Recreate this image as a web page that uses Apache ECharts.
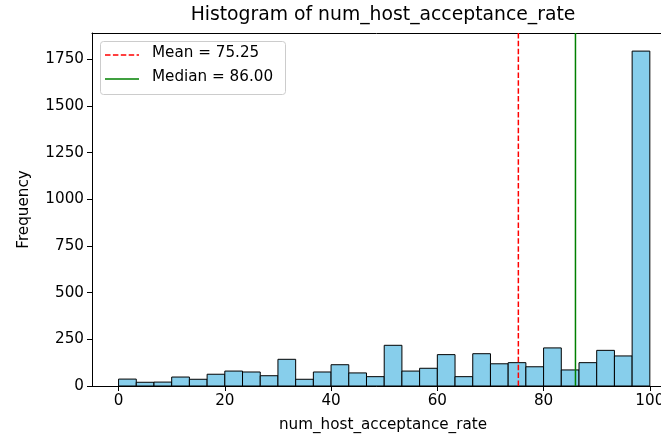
<!DOCTYPE html>
<html><head><meta charset="utf-8">
<script src="https://cdn.jsdelivr.net/npm/echarts@6/dist/echarts.min.js"></script>
<style>html,body{margin:0;padding:0;background:#fff}#c{width:661px;height:437px}</style>
</head><body><div id="c"></div>
<script>
const binMin = 0, binMax = 100, binCount = 30;
const counts = [37, 20, 21, 48, 36, 63, 80, 75, 55, 143,
                36, 75, 114, 70, 50, 218, 80, 95, 168, 50,
                173, 119, 125, 103, 204, 86, 125, 191, 161, 1794];
const meanValue = 75.25;
const medianValue = 86.00;
const meanLabel = 'Mean = 75.25';
const medianLabel = 'Median = 86.00';
const xTicks = [0, 20, 40, 60, 80, 100];
const yTicks = [0, 250, 500, 750, 1000, 1250, 1500, 1750];
const yTop = 1891;

const binW = (binMax - binMin) / binCount;
const histData = counts.map((c, i) => [binMin + i * binW, binMin + (i + 1) * binW, c]);

const font = 'DejaVu Sans';
const fs = 15.2;
const chart = echarts.init(document.getElementById('c'), null, {renderer: 'canvas'});
chart.setOption({
  animation: false,
  textStyle: {fontFamily: font},
  title: [{
    text: 'Histogram of num_host_acceptance_rate',
    left: 383, top: 6, textAlign: 'center', padding: 0,
    textStyle: {fontFamily: font, fontSize: 18.8, fontWeight: 'normal', color: '#000'}
  }, {
    text: 'num_host_acceptance_rate',
    left: 383, top: 418, textAlign: 'center', padding: 0,
    textStyle: {fontFamily: font, fontSize: fs, fontWeight: 'normal', color: '#000'}
  }],
  grid: {left: 92, right: 0, top: 33, bottom: 51, containLabel: false, outerBoundsMode: 'none'},
  xAxis: [{
    type: 'value', min: -5, max: 102.1,
    axisLine: {show: true, onZero: false, lineStyle: {color: '#000', width: 1}},
    axisTick: {show: true, length: 5, customValues: xTicks, lineStyle: {color: '#000'}},
    axisLabel: {customValues: xTicks, margin: 8, fontFamily: font, fontSize: fs, color: '#000'},
    splitLine: {show: false}
  }, {
    type: 'value', min: -5, max: 102.1, position: 'top',
    axisLine: {show: true, onZero: false, lineStyle: {color: '#000', width: 1}},
    axisTick: {show: false}, axisLabel: {show: false}, splitLine: {show: false}
  }],
  yAxis: {
    type: 'value', min: 0, max: yTop,
    name: 'Frequency', nameLocation: 'middle', nameGap: 60, nameRotate: 90,
    nameTextStyle: {fontFamily: font, fontSize: fs, color: '#000'},
    axisLine: {show: true, onZero: false, lineStyle: {color: '#000', width: 1}},
    axisTick: {show: true, length: 5, customValues: yTicks, lineStyle: {color: '#000'}},
    axisLabel: {customValues: yTicks, margin: 8, fontFamily: font, fontSize: fs, color: '#000',
      formatter: v => String(v)},
    splitLine: {show: false}
  },
  graphic: [
    {type: 'rect', left: 100, top: 41, z: 100,
     shape: {width: 185, height: 53, r: 3},
     style: {fill: 'rgba(255,255,255,0.8)', stroke: '#cccccc', lineWidth: 1}},
    {type: 'line', z: 101, shape: {x1: 105, y1: 55, x2: 139, y2: 55},
     style: {stroke: '#ff0000', lineWidth: 1.5, lineDash: [5.5, 2.4]}},
    {type: 'text', z: 101, left: 152, top: 46,
     style: {text: meanLabel, font: fs + 'px "DejaVu Sans"', fill: '#000'}},
    {type: 'line', z: 101, shape: {x1: 105, y1: 79, x2: 139, y2: 79},
     style: {stroke: '#008000', lineWidth: 1.5}},
    {type: 'text', z: 101, left: 152, top: 70,
     style: {text: medianLabel, font: fs + 'px "DejaVu Sans"', fill: '#000'}}
  ],
  series: [{
    type: 'custom',
    data: histData,
    encode: {x: [0, 1], y: 2},
    renderItem: function (params, api) {
      const p0 = api.coord([api.value(0), api.value(2)]);
      const p1 = api.coord([api.value(1), 0]);
      return {type: 'rect',
        shape: {x: p0[0], y: p0[1], width: p1[0] - p0[0], height: p1[1] - p0[1]},
        style: {fill: '#87CEEB', stroke: '#000', lineWidth: 1}};
    },
    z: 2
  }, {
    name: meanLabel, type: 'line', symbol: 'none', silent: true,
    data: [[meanValue, 0], [meanValue, yTop]],
    lineStyle: {color: '#ff0000', width: 1.5, type: [5.5, 2.4]},
    z: 5
  }, {
    name: medianLabel, type: 'line', symbol: 'none', silent: true,
    data: [[medianValue, 0], [medianValue, yTop]],
    lineStyle: {color: '#008000', width: 1.5},
    z: 5
  }]
});
</script></body></html>
